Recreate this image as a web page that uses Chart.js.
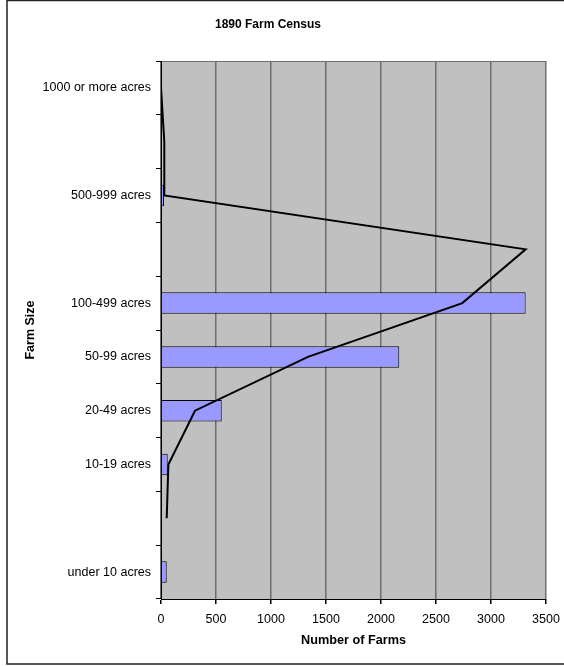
<!DOCTYPE html>
<html>
<head>
<meta charset="utf-8">
<script src="https://cdn.jsdelivr.net/npm/chart.js@4/dist/chart.umd.min.js"></script>
<style>
  body { margin: 0; background: #fff; }
  #wrap { position: relative; width: 564px; height: 666px; }
</style>
</head>
<body>
<div id="wrap"><canvas id="farmChart"></canvas></div>
<script>
// category slots, top to bottom (blank slots keep Excel's spacing)
const sizeLabels = ['1000 or more acres', '', '500-999 acres', '', '100-499 acres', '50-99 acres', '20-49 acres', '10-19 acres', '', 'under 10 acres'];
// bar series
const farmCounts = [null, null, 27, null, 3315, 2166, 552, 61, null, 52];
// line series
const lineCounts = [0, 30, 30, 3315, 2739, 1336, 309, 67, 52, null];
const xTicks = [0, 500, 1000, 1500, 2000, 2500, 3000, 3500];

Chart.defaults.font.family = '"Liberation Sans", Arial, sans-serif';
Chart.defaults.color = '#000';

// white page, frame, grey plot area and the title
const framePlugin = {
  id: 'frame',
  beforeDraw(chart) {
    const { ctx, chartArea: a } = chart;
    ctx.save();
    ctx.fillStyle = '#fff';
    ctx.fillRect(0, 0, chart.width, chart.height);
    ctx.strokeStyle = '#222';
    ctx.lineWidth = 1.5;
    ctx.strokeRect(7, 0.5, 600, 663.5);
    ctx.fillStyle = '#c0c0c0';
    ctx.fillRect(a.left, a.top, a.right - a.left, a.bottom - a.top);
    ctx.strokeStyle = '#6e6e6e';
    ctx.lineWidth = 1;
    ctx.beginPath();
    ctx.moveTo(a.left, a.top + 0.5);
    ctx.lineTo(a.right, a.top + 0.5);
    ctx.stroke();
    ctx.fillStyle = '#000';
    ctx.font = 'bold 12px "Liberation Sans", Arial, sans-serif';
    ctx.textAlign = 'center';
    ctx.textBaseline = 'middle';
    ctx.fillText('1890 Farm Census', 268, 25);
    ctx.restore();
  }
};

new Chart(document.getElementById('farmChart'), {
  data: {
    labels: sizeLabels,
    datasets: [{
      type: 'line',
      data: lineCounts,
      borderColor: '#000',
      borderWidth: 2,
      pointRadius: 0,
      tension: 0,
      order: 0
    }, {
      type: 'bar',
      data: farmCounts,
      backgroundColor: '#9999ff',
      borderColor: '#000',
      borderWidth: 1,
      categoryPercentage: 1,
      barPercentage: 0.4,
      order: 1
    }]
  },
  options: {
    indexAxis: 'y',
    responsive: true,
    maintainAspectRatio: false,
    animation: false,
    layout: { padding: { top: 61, left: 18, right: 18, bottom: 10 } },
    plugins: { legend: { display: false }, tooltip: { enabled: false } },
    scales: {
      x: {
        min: 0,
        max: 3500,
        afterBuildTicks: s => { s.ticks = xTicks.map(v => ({ value: v })); },
        afterFit: s => { s.height = 57; s.paddingLeft = 0; s.paddingRight = 0; },
        grid: { color: '#6e6e6e', lineWidth: 1.5, tickColor: '#000', tickLength: 5 },
        border: { color: '#000', width: 1 },
        ticks: { font: { size: 12.5 }, padding: 8, callback: v => String(v) },
        title: { display: true, text: 'Number of Farms', font: { size: 12.7, weight: 'bold' }, padding: { top: 4, bottom: 8 } }
      },
      y: {
        afterFit: s => { s.width = 143; },
        grid: { offset: true, drawOnChartArea: false, color: '#000', tickLength: 5 },
        border: { color: '#000', width: 1 },
        ticks: { autoSkip: false, font: { size: 12.5 }, padding: 5 },
        title: { display: true, text: 'Farm Size', font: { size: 12.5, weight: 'bold' }, padding: { top: 5, bottom: 0 } }
      }
    }
  },
  plugins: [framePlugin]
});
</script>
</body>
</html>
